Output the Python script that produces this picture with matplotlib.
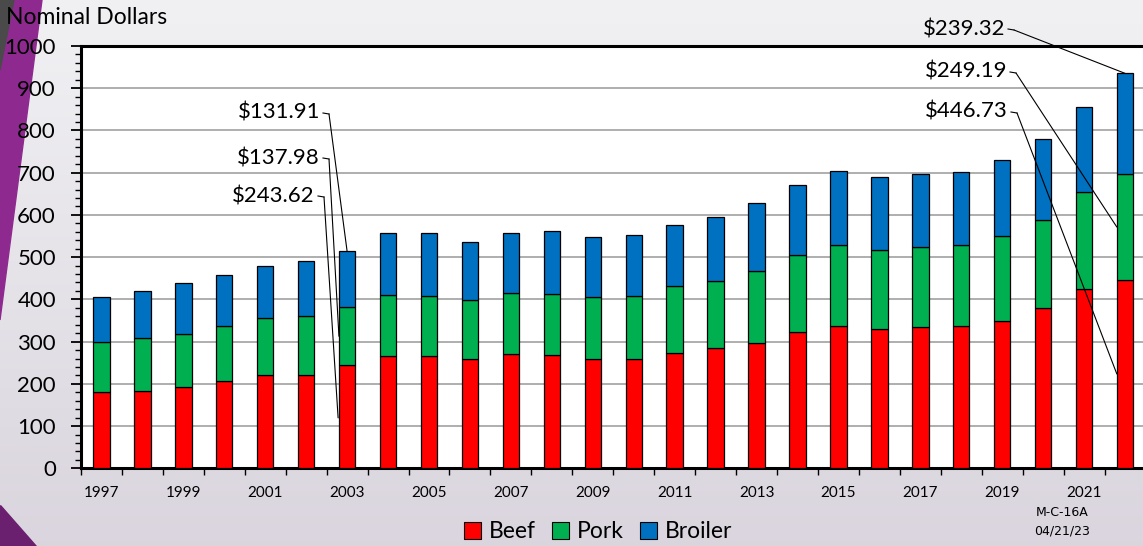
import numpy as np
import matplotlib.pyplot as plt
from matplotlib.patches import Patch, Polygon
from matplotlib.lines import Line2D
from matplotlib.patches import ConnectionPatch

plt.rcParams['font.family'] = ['Lato', 'DejaVu Sans']

# Valori (dollari nominali)
years = list(range(1997, 2023))
beef = [181, 182, 192, 206, 222, 222, 243.62, 267, 266, 260, 270, 268, 259,
        259, 274, 284, 296, 322, 338, 330, 335, 338, 349, 379, 424, 446.73]
pork = [117, 126, 127, 131, 135, 138, 137.98, 143, 142, 138, 145, 145, 146,
        149, 157, 159, 171, 184, 191, 188, 190, 190, 201, 210, 230, 249.19]
broiler = [108, 111, 119, 121, 122, 130, 131.91, 147, 150, 138, 142, 148, 142,
           144, 146, 153, 161, 165, 176, 171, 171, 174, 179, 191, 201, 239.32]
labels = ["Beef", "Pork", "Broiler"]
colors = ["#FF0000", "#00B050", "#0070C0"]

W, H = 1143, 546
fig = plt.figure(figsize=(W / 100, H / 100), dpi=100)


def fx(x, y):
    # pixel (dall'alto) -> coordinate figura
    return (x / W, 1 - y / H)


# Sfondo con gradiente e decorazioni viola
bg = fig.add_axes([0, 0, 1, 1], zorder=-10)
grad = np.linspace(0, 1, 256).reshape(-1, 1)
top = np.array([0.945, 0.945, 0.955])
bot = np.array([0.855, 0.835, 0.870])
img = top + (bot - top) * grad[..., None]
bg.imshow(img.reshape(256, 1, 3), aspect='auto', extent=[0, 1, 0, 1])
bg.add_patch(Polygon([fx(14, 0), fx(42, 0), fx(0, 320), fx(0, 70)],
                     closed=True, color="#8E2A8F", transform=bg.transAxes))
bg.add_patch(Polygon([fx(0, 0), fx(14, 0), fx(0, 70)], closed=True,
                     color="#4A4A4A", transform=bg.transAxes))
bg.add_patch(Polygon([fx(0, 505), fx(0, 546), fx(36, 546)], closed=True,
                     color="#6A1F6F", transform=bg.transAxes))
bg.set_xlim(0, 1)
bg.set_ylim(0, 1)
bg.axis('off')

# Area del grafico
ax = fig.add_axes([81 / W, (H - 468.3) / H, (1145.5 - 81) / W, (468.3 - 46) / H])
ax.set_facecolor("white")

x = np.array(years)
b1 = np.array(beef)
b2 = np.array(pork)
b3 = np.array(broiler)
ax.bar(x, b1, 0.4, color=colors[0], edgecolor="black", linewidth=0.9, zorder=3)
ax.bar(x, b2, 0.4, bottom=b1, color=colors[1], edgecolor="black", linewidth=0.9, zorder=3)
ax.bar(x, b3, 0.4, bottom=b1 + b2, color=colors[2], edgecolor="black", linewidth=0.9, zorder=3)

ax.set_xlim(years[0] - 0.5, years[-1] + 0.5)
ax.set_ylim(0, 1000)
ax.set_yticks(np.arange(0, 1001, 100))
ax.set_yticks(np.arange(0, 1001, 20), minor=True)
ax.set_xticks(x[::2])
ax.set_xticks(np.arange(years[0] - 0.5, years[-1] + 1, 1), minor=True)
ax.grid(axis='y', color="#A8A8A8", linewidth=1.3, zorder=0)
ax.tick_params(axis='y', which='major', length=7, width=1.3, labelsize=16, pad=11)
ax.tick_params(axis='y', which='minor', length=4, width=1.0)
ax.tick_params(axis='x', which='major', length=0, labelsize=11, pad=13)
ax.tick_params(axis='x', which='minor', length=5, width=1.0)
for s in ax.spines.values():
    s.set_linewidth(2.2)

fig.text(6 / W, 1 - 18 / H, "Nominal Dollars", fontsize=16.5, ha='left', va='center')

# Etichette con linee di richiamo
i03 = years.index(2003)
i22 = years.index(2022)
notes = [
    ("$131.91", (320, 113), (years[i03], b1[i03] + b2[i03] + b3[i03])),
    ("$137.98", (320, 158), (years[i03] - 0.2, b1[i03] + b2[i03] * 0.5)),
    ("$243.62", (315, 196), (years[i03] - 0.22, b1[i03] * 0.49)),
    ("$239.32", (1005, 29), (years[i22], b1[i22] + b2[i22] + b3[i22])),
    ("$249.19", (1007, 72), (years[i22] - 0.2, b1[i22] + b2[i22] * 0.5)),
    ("$446.73", (1008, 112), (years[i22] - 0.2, b1[i22] * 0.5)),
]
for txt, (tx, ty), tip in notes:
    fig.text(tx / W, 1 - ty / H, txt, fontsize=16, ha='right', va='center')
    x0, y0 = fx(tx + 3, ty)
    x1, y1 = fx(tx + 9, ty + 1)
    fig.add_artist(Line2D([x0, x1], [y0, y1], color="black", linewidth=0.8,
                          transform=fig.transFigure))
    con = ConnectionPatch(xyA=(x1, y1), coordsA=fig.transFigure, xyB=tip,
                          coordsB=ax.transData, color="black", linewidth=0.8,
                          zorder=5)
    fig.add_artist(con)

# Legenda
handles = [Patch(facecolor=c, edgecolor="black", linewidth=0.8) for c in colors]
fig.legend(handles, labels, loc='center', bbox_to_anchor=fx(598, 532), ncol=3,
           frameon=False, fontsize=16.5, handlelength=0.75, handleheight=0.75,
           handletextpad=0.35, columnspacing=0.7, borderpad=0)

fig.text(1062 / W, 1 - 512 / H, "M-C-16A", fontsize=9, ha='center', va='center',
         family=['Liberation Sans Narrow', 'DejaVu Sans'])
fig.text(1062 / W, 1 - 531 / H, "04/21/23", fontsize=9, ha='center', va='center',
         family=['Liberation Sans Narrow', 'DejaVu Sans'])

fig.savefig("out.png", dpi=100)
